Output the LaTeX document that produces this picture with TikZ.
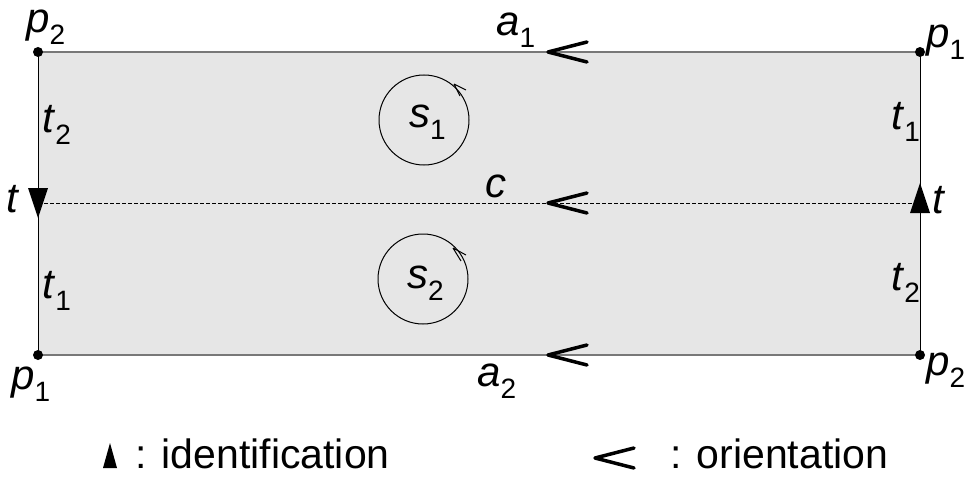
\documentclass[tikz,border=0pt]{standalone}
\usepackage{fontspec}
\setmainfont{Liberation Sans}
\definecolor{facefill}{RGB}{230,230,230}
\definecolor{edgegray}{RGB}{120,120,120}
\newcommand\vsub[2]{\textit{#1}\/\raisebox{-12pt}{\fontsize{28}{28}\selectfont #2}}
\begin{document}
\begin{tikzpicture}[x=1pt,y=-1pt,
  lab/.style={anchor=base west,inner sep=0pt,font=\fontsize{42}{42}\selectfont},
  leg/.style={anchor=base west,inner sep=0pt,font=\fontsize{41}{41}\selectfont},
  hedge/.style={draw=edgegray,line width=1.5pt},
  vedge/.style={draw=black,line width=1pt},
  midline/.style={draw=black,line width=0.8pt,dash pattern=on 4pt off 2pt},
  corner/.style={circle,fill=black,inner sep=0pt,minimum size=10pt},
  chev/.style={draw=black,line width=3.5pt,line cap=round,line join=round},
  idtri/.style={fill=black},
  barb/.style={draw=black,line width=1pt}]
\useasboundingbox (0,0) rectangle (965,481);
\fill[facefill] (38,52) rectangle (920,355);
% corners
\coordinate (TL) at (38,52);
\coordinate (TR) at (920,52);
\coordinate (BL) at (38,355);
\coordinate (BR) at (920,355);
\coordinate (ML) at (38,203);
\coordinate (MR) at (920,203);
\draw[hedge] (TL) -- (TR);
\draw[hedge] (BL) -- (BR);
\draw[vedge] (TL) -- (BL);
\draw[vedge] (TR) -- (BR);
\draw[midline] (ML) -- (MR);
\node[corner] (cTL) at (TL) {};
\node[corner] (cTR) at (TR) {};
\node[corner] (cBL) at (BL) {};
\node[corner] (cBR) at (BR) {};
% identification triangles
\fill[idtri] (28,188) -- (48,188) -- (38,218) -- cycle;
\fill[idtri] (910,213) -- (930,213) -- (920,183) -- cycle;
% orientation chevrons
\draw[chev] (587,42) -- (548,52) -- (587,62);
\draw[chev] (587,193) -- (548,203) -- (587,213);
\draw[chev] (587,345) -- (548,355) -- (587,365);
% circles
\draw[line width=1pt] (424,120) circle (45);
\draw[line width=1pt] (423,279) circle (45);
\coordinate (a1tip) at (454,84);
\draw[barb] (a1tip) -- ++(12,6) (a1tip) -- ++(6,12);
\coordinate (a2tip) at (453,248);
\draw[barb] (a2tip) -- ++(13,7) (a2tip) -- ++(8,13);
% labels
\node[lab] (lp2a) at (26,33) {\vsub{p}{2}};
\node[lab] (lp1a) at (926,48) {\vsub{p}{1}};
\node[lab] (la1) at (496,36) {\vsub{a}{1}};
\node[lab] (lt2a) at (42,133) {\vsub{t}{2}};
\node[lab] (lt1b) at (891,130) {\vsub{t}{1}};
\node[lab] (ls1) at (409,128) {\vsub{s}{1}};
\node[lab] (lc) at (485,197) {\textit{c}};
\node[lab] (ltl) at (6,212) {\textit{t}};
\node[lab] (ltr) at (932,213) {\textit{t}};
\node[lab] (ls2) at (407,288) {\vsub{s}{2}};
\node[lab] (lt1a) at (42,298) {\vsub{t}{1}};
\node[lab] (lt2b) at (891,290) {\vsub{t}{2}};
\node[lab] (lp1b) at (11,389) {\vsub{p}{1}};
\node[lab] (la2) at (477,386) {\vsub{a}{2}};
\node[lab] (lp2b) at (926,375) {\vsub{p}{2}};
% legend
\fill[idtri] (103,468) -- (117,468) -- (110,443) -- cycle;
\node[leg] (lid) at (135,468) {: identification};
\draw[chev] (634,448) -- (595,458) -- (634,468);
\node[leg] (lor) at (670,468) {: orientation};
\end{tikzpicture}
\end{document}
